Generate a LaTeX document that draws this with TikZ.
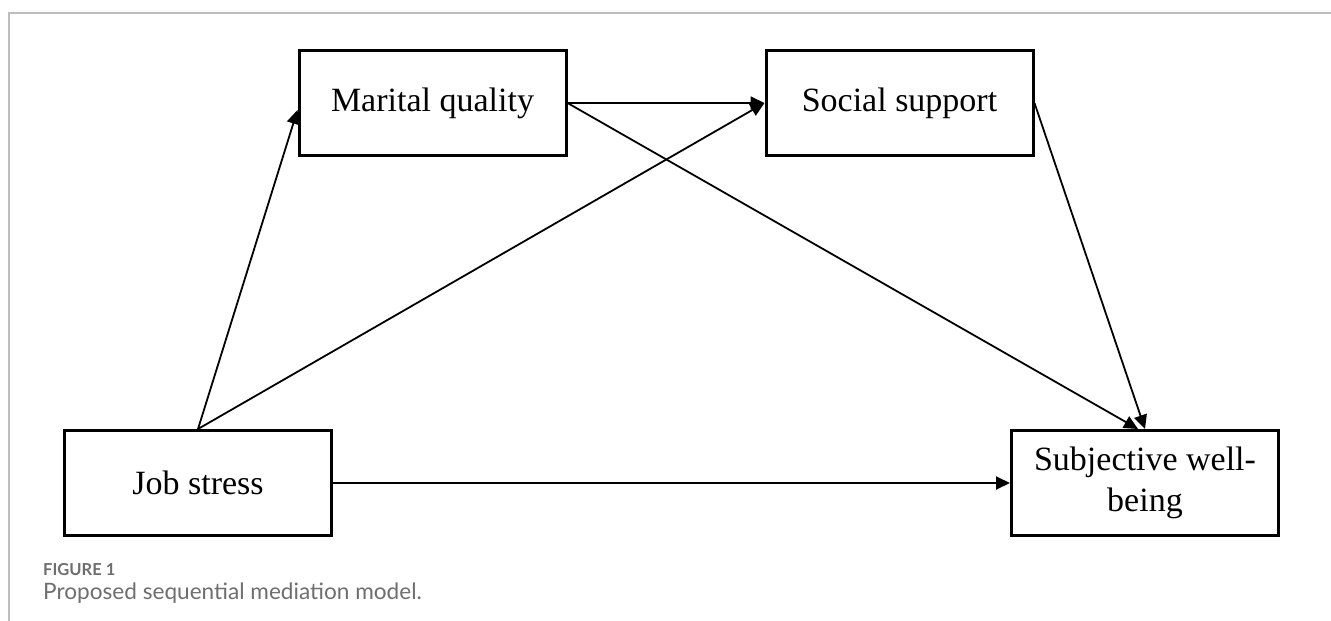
\documentclass[tikz,border=0pt]{standalone}
\usepackage{fontspec}
\setmainfont{Liberation Serif}
\newfontfamily\capfont{Lato}
\usetikzlibrary{positioning,arrows.meta}
\definecolor{framegrey}{HTML}{BDBDBD}
\definecolor{capgrey}{HTML}{6E6E6E}

\begin{document}
\begin{tikzpicture}[x=1pt, y=-1pt,
    var/.style={draw, line width=3pt, minimum width=267pt, minimum height=105pt,
        align=center, inner sep=0pt, font=\fontsize{34}{41}\selectfont},
    link/.style={line width=1.8pt, -{Triangle[length=14pt, width=13pt]}}]
    \useasboundingbox (0,0) rectangle (1331,621);
    % frame
    \draw[framegrey, line width=1.5pt] (1331,13) -| (9,621);
    % variables
    \node[var] (js) at (198,483) {Job stress};
    \node[var, right = 677pt of js] (swb) {Subjective well-\\being};
    \node[var, above = 272pt of js, xshift=234.5pt] (mq) {Marital quality};
    \node[var, right = 197pt of mq] (ss) {Social support};
    % paths
    \draw[link] (js.north) -- ([yshift=-7pt]mq.west);
    \draw[link] (js.north) -- (ss.west);
    \draw[link] (mq.east) -- (ss.west);
    \draw[link] (mq.east) -- ([xshift=-7pt]swb.north);
    \draw[link] (ss.east) -- (swb.north);
    \draw[link] (js) -- (swb);
    % caption
    \node[anchor=base west, inner sep=0pt, text=capgrey,
        font=\capfont\bfseries\fontsize{16.5}{17}\selectfont] (figlabel) at (43,575) {FIGURE 1};
    \node[anchor=base west, inner sep=0pt, text=capgrey,
        font=\capfont\fontsize{22.6}{25}\selectfont] (figcaption) at (43,599) {Proposed sequential mediation model.};
\end{tikzpicture}
\end{document}
